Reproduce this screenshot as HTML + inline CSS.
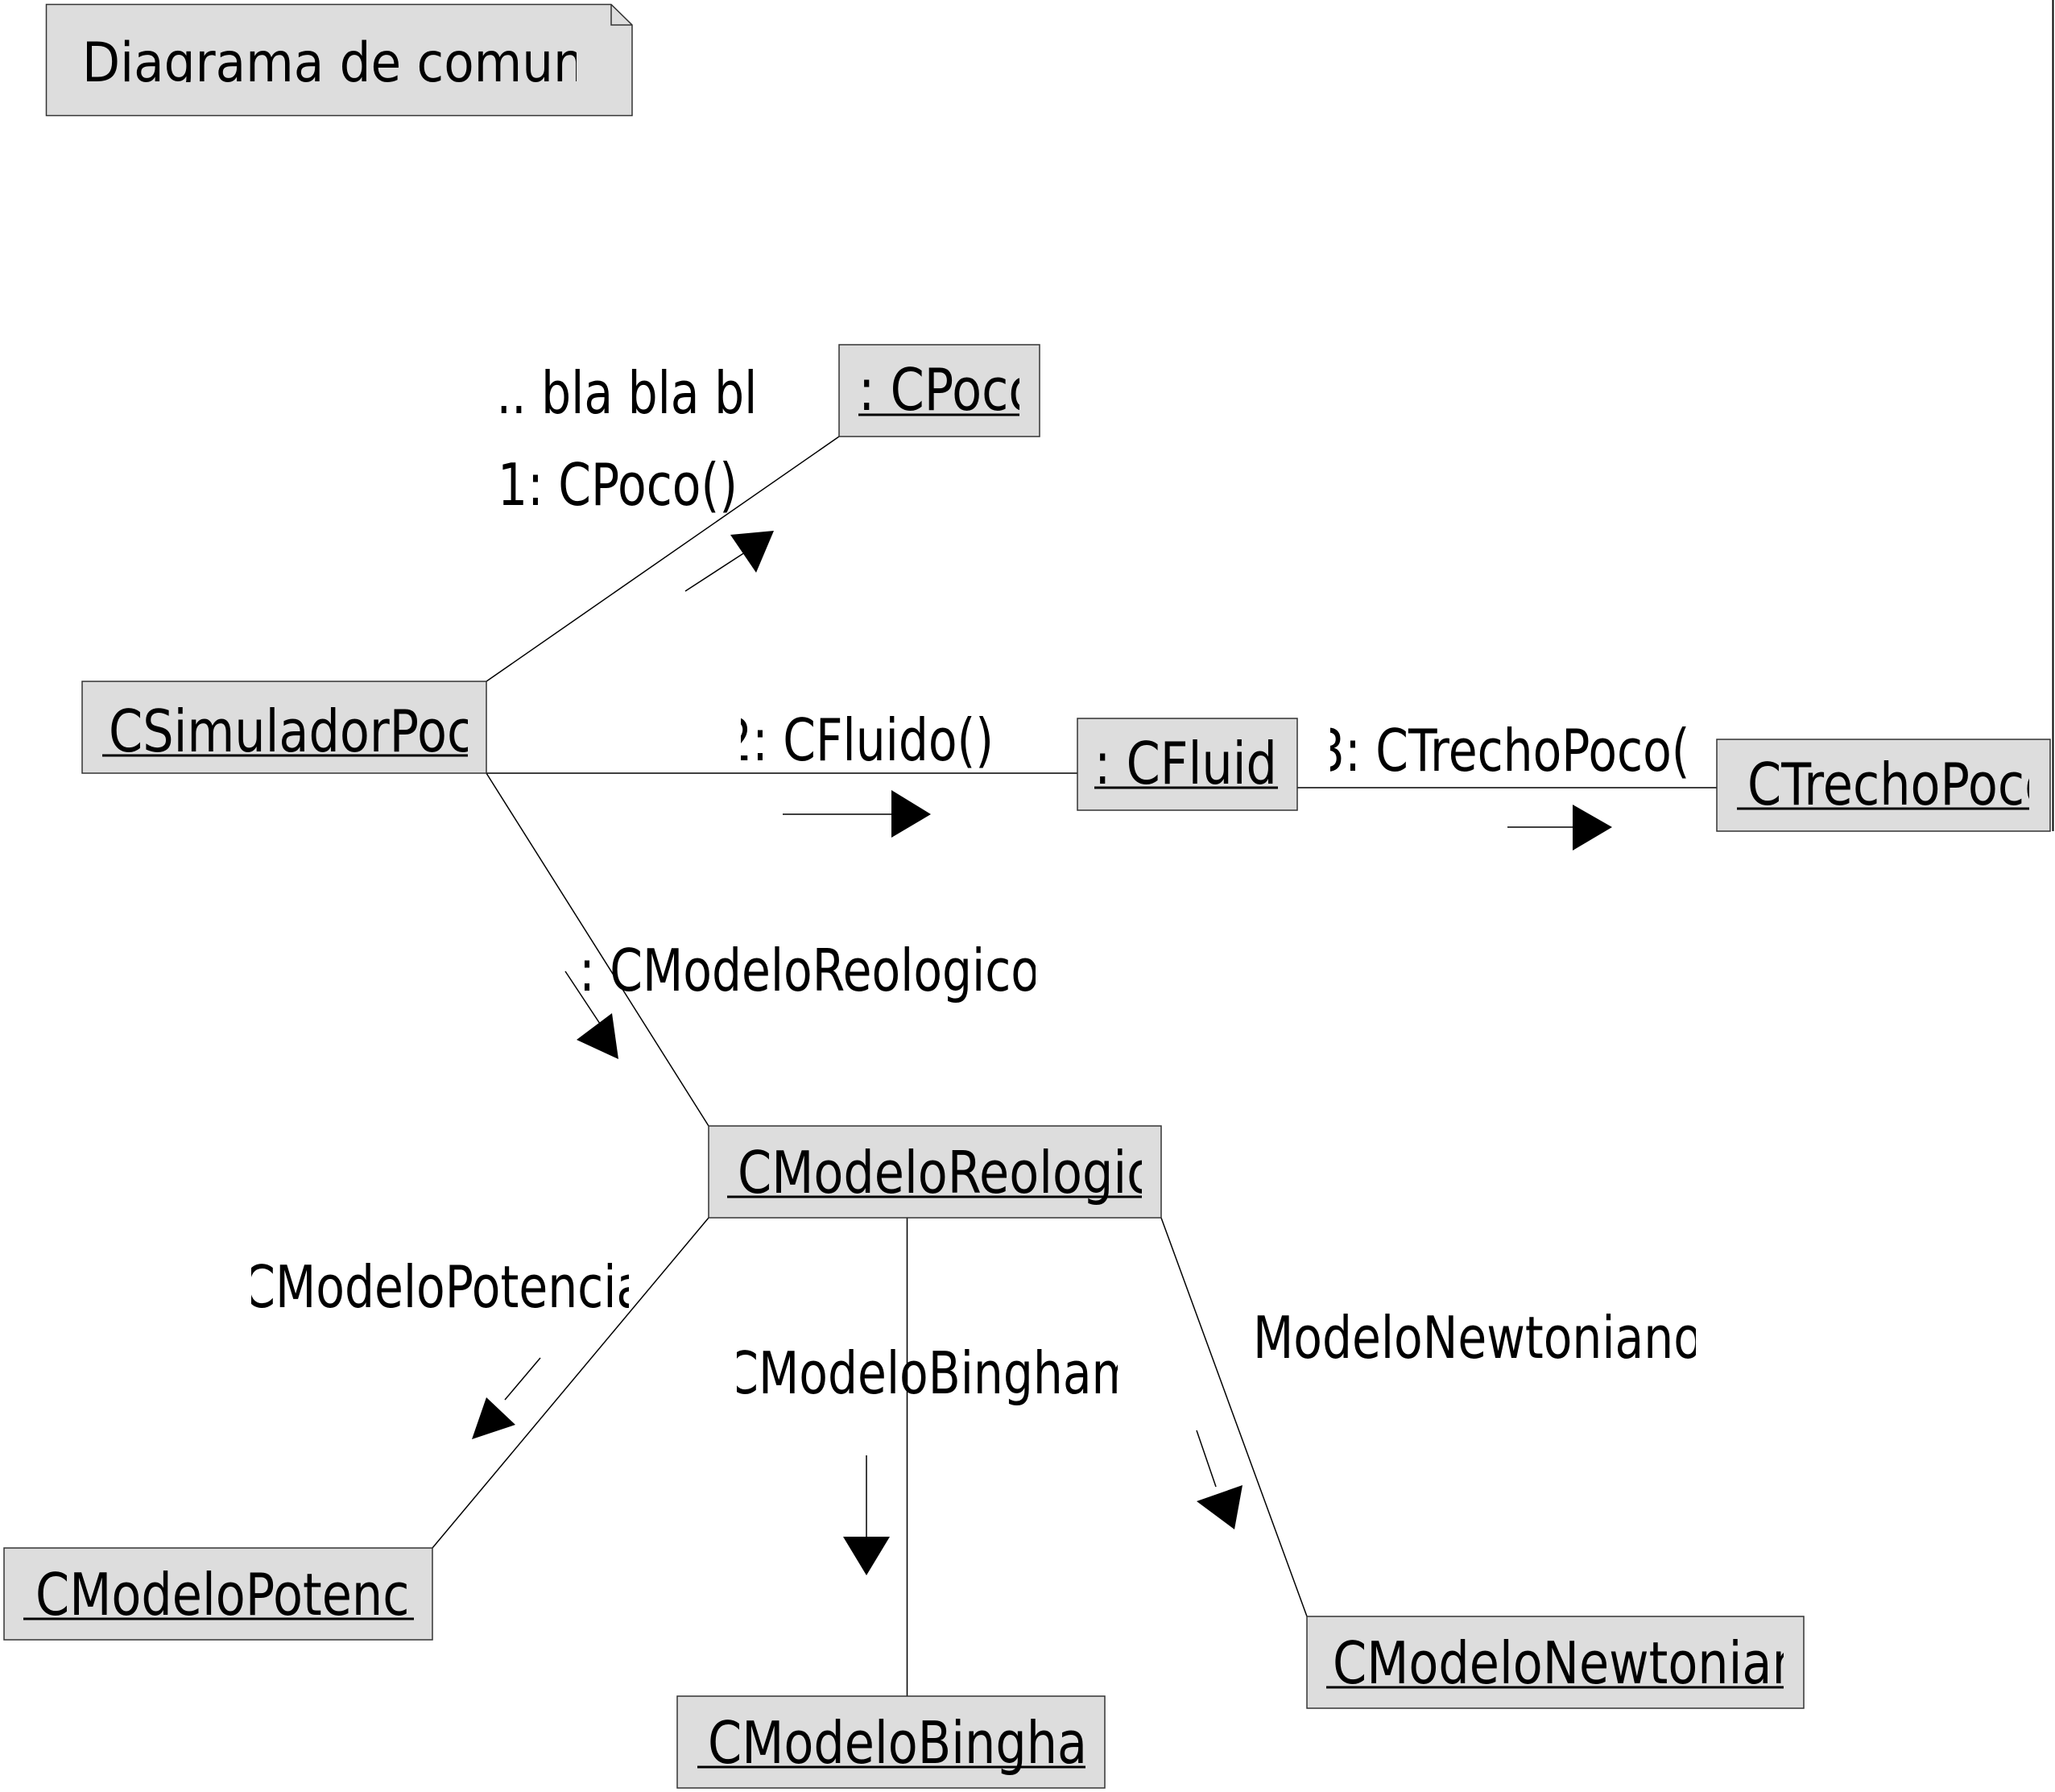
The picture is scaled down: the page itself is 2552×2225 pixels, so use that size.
<!DOCTYPE html>
<html><head><meta charset="utf-8"><style>
html,body{margin:0;padding:0;background:#fff;}
svg{display:block;}
text{font-family:"DejaVu Sans","Liberation Sans",sans-serif;fill:#000;}
</style></head><body>
<svg width="2552" height="2225" viewBox="0 0 2552 2225" xmlns="http://www.w3.org/2000/svg">
<defs>
<clipPath id="cn"><rect x="57" y="5" width="659" height="97"/></clipPath>
<clipPath id="c0"><rect x="618" y="430" width="321" height="110"/></clipPath>
<clipPath id="c1"><rect x="618" y="550" width="300" height="110"/></clipPath>
<clipPath id="c2"><rect x="920" y="860" width="320" height="110"/></clipPath>
<clipPath id="c3"><rect x="1652" y="870" width="450" height="110"/></clipPath>
<clipPath id="c4"><rect x="721" y="1150" width="565" height="110"/></clipPath>
<clipPath id="c5"><rect x="312" y="1540" width="469" height="110"/></clipPath>
<clipPath id="c6"><rect x="915" y="1650" width="473" height="110"/></clipPath>
<clipPath id="c7"><rect x="1558" y="1605" width="548" height="110"/></clipPath>
<clipPath id="b1"><rect x="1042" y="428" width="224" height="114"/></clipPath>
<clipPath id="b2"><rect x="102" y="846" width="479" height="114"/></clipPath>
<clipPath id="b3"><rect x="1338" y="892" width="249" height="114"/></clipPath>
<clipPath id="b4"><rect x="2132" y="918" width="388" height="114"/></clipPath>
<clipPath id="b5"><rect x="880" y="1398" width="538" height="114"/></clipPath>
<clipPath id="b6"><rect x="5" y="1922" width="509" height="114"/></clipPath>
<clipPath id="b7"><rect x="841" y="2106" width="507" height="114"/></clipPath>
<clipPath id="b8"><rect x="1623" y="2007" width="592" height="114"/></clipPath>
</defs>

<path d="M57.5 5.5 H759 L785 31 V143.5 H57.5 Z" fill="#dddddd" stroke="#333" stroke-width="1.5"/>
<path d="M759 5.5 V31 H785" fill="none" stroke="#333" stroke-width="1.5"/>
<g clip-path="url(#cn)"><text transform="translate(102,101) scale(0.9,1)" font-size="68">Diagrama de comunicação</text></g>

<line x1="2549.5" y1="0" x2="2549.5" y2="1032" stroke="#000" stroke-width="2"/>

<g stroke="#000" stroke-width="1.5" fill="none">
<line x1="604" y1="846" x2="1042" y2="542"/>
<line x1="604" y1="960" x2="1338" y2="960"/>
<line x1="1611" y1="978" x2="2132" y2="978"/>
<line x1="604" y1="960" x2="880" y2="1398"/>
<line x1="880" y1="1512" x2="537" y2="1922"/>
<line x1="1126.5" y1="1512" x2="1126.5" y2="2106"/>
<line x1="1442" y1="1512" x2="1623" y2="2007"/>
<line x1="851" y1="734" x2="928" y2="684"/>
<line x1="972" y1="1011" x2="1107" y2="1011"/>
<line x1="1872" y1="1027" x2="1953" y2="1027"/>
<line x1="702" y1="1206" x2="745" y2="1271"/>
<line x1="671" y1="1686" x2="627" y2="1738"/>
<line x1="1076" y1="1807" x2="1076" y2="1908"/>
<line x1="1486" y1="1776" x2="1510" y2="1846"/>
</g>
<g fill="#000">
<polygon points="961,659 907,664 939,711"/>
<polygon points="1107,981 1156,1011 1107,1040"/>
<polygon points="1953,999 2002,1027 1953,1056"/>
<polygon points="768,1315 716,1291 760,1258"/>
<polygon points="586,1787 640,1769 604,1735"/>
<polygon points="1047,1908 1105,1908 1076,1956"/>
<polygon points="1533,1899 1486,1864 1543,1844"/>
</g>

<g fill="#dddddd" stroke="#333" stroke-width="1.5">
<rect x="1042" y="428" width="249" height="114"/>
<rect x="102" y="846" width="502" height="114"/>
<rect x="1338" y="892" width="273" height="114"/>
<rect x="2132" y="918" width="414" height="114"/>
<rect x="880" y="1398" width="562" height="114"/>
<rect x="5" y="1922" width="532" height="114"/>
<rect x="841" y="2106" width="531" height="114"/>
<rect x="1623" y="2007" width="617" height="114"/>
</g>

<g clip-path="url(#b1)"><text transform="translate(1066,509) scale(0.84,1)" font-size="72">: CPoco</text></g>
<line x1="1066" y1="515" x2="1266" y2="515" stroke="#000" stroke-width="3"/>
<g clip-path="url(#b2)"><text transform="translate(135,933) scale(0.84,1)" font-size="72">CSimuladorPoco</text></g>
<line x1="127" y1="938" x2="581" y2="938" stroke="#000" stroke-width="3"/>
<g clip-path="url(#b3)"><text transform="translate(1359,973) scale(0.84,1)" font-size="72">: CFluido</text></g>
<line x1="1359" y1="978" x2="1587" y2="978" stroke="#000" stroke-width="3"/>
<g clip-path="url(#b4)"><text transform="translate(2170,999) scale(0.84,1)" font-size="72">CTrechoPoco</text></g>
<line x1="2157" y1="1004" x2="2520" y2="1004" stroke="#000" stroke-width="3"/>
<g clip-path="url(#b5)"><text transform="translate(916,1481) scale(0.84,1)" font-size="72">CModeloReologico</text></g>
<line x1="903" y1="1486" x2="1418" y2="1486" stroke="#000" stroke-width="3"/>
<g clip-path="url(#b6)"><text transform="translate(44,2005) scale(0.84,1)" font-size="72">CModeloPotencia</text></g>
<line x1="29" y1="2010" x2="514" y2="2010" stroke="#000" stroke-width="3"/>
<g clip-path="url(#b7)"><text transform="translate(879,2189) scale(0.84,1)" font-size="72">CModeloBingham</text></g>
<line x1="866" y1="2194" x2="1348" y2="2194" stroke="#000" stroke-width="3"/>
<g clip-path="url(#b8)"><text transform="translate(1655,2090) scale(0.84,1)" font-size="72">CModeloNewtoniano</text></g>
<line x1="1647" y1="2095" x2="2215" y2="2095" stroke="#000" stroke-width="3"/>

<g clip-path="url(#c0)"><text transform="translate(598,513) scale(0.81,1)" font-size="72">... bla bla bla</text></g>
<g clip-path="url(#c1)"><text transform="translate(618,627) scale(0.81,1)" font-size="72">1: CPoco()</text></g>
<g clip-path="url(#c2)"><text transform="translate(897,944) scale(0.81,1)" font-size="72">2: CFluido()</text></g>
<g clip-path="url(#c3)"><text transform="translate(1633,957) scale(0.81,1)" font-size="72">3: CTrechoPoco()</text></g>
<g clip-path="url(#c4)"><text transform="translate(682,1230) scale(0.81,1)" font-size="72">4: CModeloReologico()</text></g>
<g clip-path="url(#c5)"><text transform="translate(226,1623) scale(0.81,1)" font-size="72">5: CModeloPotencia()</text></g>
<g clip-path="url(#c6)"><text transform="translate(826,1730) scale(0.81,1)" font-size="72">6: CModeloBingham()</text></g>
<g clip-path="url(#c7)"><text transform="translate(1440,1686) scale(0.81,1)" font-size="72">7: CModeloNewtoniano()</text></g>
</svg>
</body></html>
